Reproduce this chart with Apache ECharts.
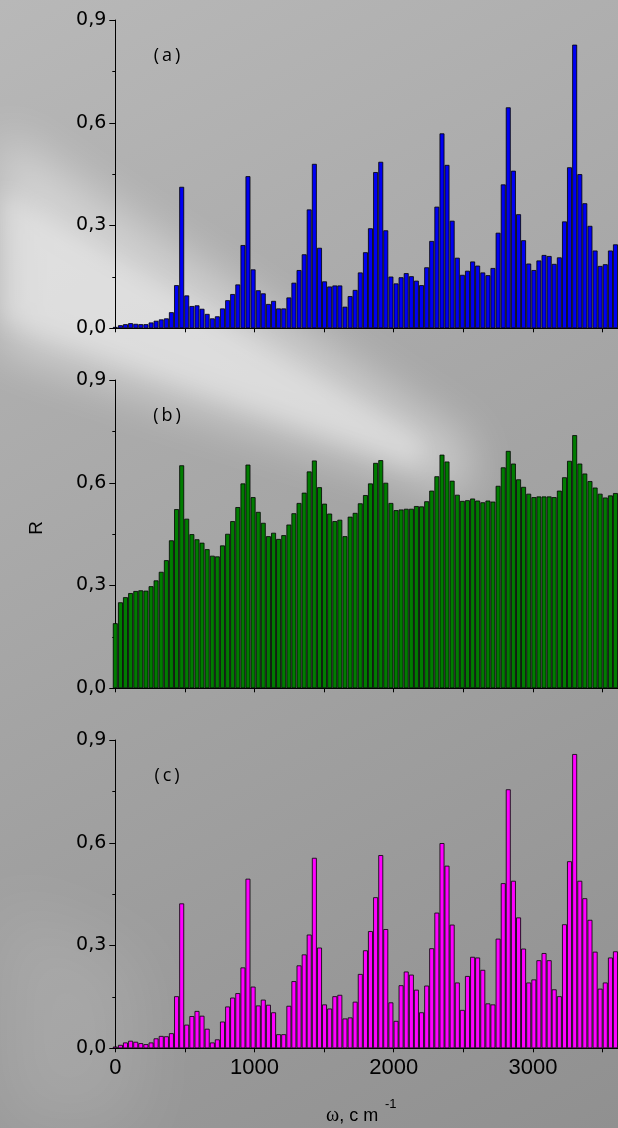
<!DOCTYPE html>
<html>
<head>
<meta charset="utf-8">
<script src="https://cdn.jsdelivr.net/npm/echarts@6/dist/echarts.min.js"></script>
<style>
html,body{margin:0;padding:0;background:#a8a8a8;}
#chart{width:618px;height:1128px;}
</style>
</head>
<body>
<div id="chart"></div>
<script>
// wavenumber bins (cm^-1)
const omega = [0, 37, 73, 110, 147, 183, 220, 257, 293, 330,
  367, 403, 440, 477, 513, 550, 587, 623, 660, 697,
  733, 770, 807, 843, 880, 917, 953, 990, 1027, 1063,
  1100, 1137, 1173, 1210, 1247, 1283, 1320, 1357, 1393, 1430,
  1467, 1503, 1540, 1577, 1613, 1650, 1687, 1723, 1760, 1797,
  1833, 1870, 1907, 1943, 1980, 2017, 2053, 2090, 2127, 2163,
  2200, 2237, 2273, 2310, 2347, 2383, 2420, 2457, 2493, 2530,
  2567, 2603, 2640, 2677, 2713, 2750, 2787, 2823, 2860, 2897,
  2933, 2970, 3007, 3043, 3080, 3117, 3153, 3190, 3227, 3263,
  3300, 3337, 3373, 3410, 3447, 3483, 3520, 3557, 3593];

// panel (a)
const Ra = [0.004, 0.009, 0.012, 0.015, 0.013, 0.012, 0.012, 0.017, 0.022, 0.026,
  0.029, 0.047, 0.126, 0.413, 0.096, 0.065, 0.067, 0.057, 0.042, 0.029,
  0.035, 0.058, 0.082, 0.100, 0.128, 0.243, 0.444, 0.172, 0.111, 0.102,
  0.071, 0.080, 0.058, 0.058, 0.090, 0.133, 0.170, 0.216, 0.347, 0.480,
  0.235, 0.137, 0.122, 0.125, 0.125, 0.063, 0.094, 0.112, 0.163, 0.222,
  0.292, 0.456, 0.486, 0.286, 0.151, 0.131, 0.149, 0.161, 0.152, 0.139,
  0.126, 0.178, 0.255, 0.355, 0.569, 0.477, 0.314, 0.206, 0.156, 0.168,
  0.195, 0.183, 0.163, 0.155, 0.176, 0.279, 0.420, 0.645, 0.460, 0.333,
  0.257, 0.189, 0.170, 0.198, 0.214, 0.211, 0.188, 0.207, 0.312, 0.470,
  0.828, 0.450, 0.365, 0.299, 0.227, 0.182, 0.187, 0.227, 0.245];

// panel (b)
const Rb = [0.190, 0.251, 0.266, 0.278, 0.284, 0.286, 0.285, 0.298, 0.315, 0.340,
  0.374, 0.432, 0.523, 0.651, 0.495, 0.450, 0.435, 0.425, 0.406, 0.387,
  0.385, 0.417, 0.451, 0.488, 0.529, 0.598, 0.653, 0.558, 0.515, 0.483,
  0.444, 0.454, 0.436, 0.447, 0.478, 0.511, 0.541, 0.571, 0.633, 0.665,
  0.587, 0.539, 0.510, 0.488, 0.492, 0.444, 0.501, 0.512, 0.540, 0.564,
  0.598, 0.658, 0.666, 0.600, 0.541, 0.520, 0.522, 0.524, 0.524, 0.532,
  0.531, 0.546, 0.577, 0.619, 0.682, 0.662, 0.606, 0.565, 0.547, 0.549,
  0.554, 0.548, 0.543, 0.548, 0.545, 0.591, 0.645, 0.693, 0.656, 0.610,
  0.588, 0.568, 0.558, 0.560, 0.560, 0.560, 0.558, 0.577, 0.616, 0.664,
  0.739, 0.656, 0.627, 0.605, 0.586, 0.568, 0.557, 0.563, 0.570];

// panel (c)
const Rc = [0.005, 0.010, 0.017, 0.022, 0.019, 0.015, 0.012, 0.017, 0.029, 0.036,
  0.035, 0.044, 0.152, 0.423, 0.069, 0.094, 0.109, 0.095, 0.057, 0.017,
  0.026, 0.078, 0.122, 0.148, 0.161, 0.236, 0.495, 0.180, 0.125, 0.142,
  0.127, 0.105, 0.041, 0.041, 0.124, 0.196, 0.242, 0.274, 0.332, 0.556,
  0.294, 0.128, 0.116, 0.152, 0.156, 0.087, 0.090, 0.136, 0.217, 0.286,
  0.342, 0.441, 0.564, 0.348, 0.134, 0.080, 0.184, 0.224, 0.215, 0.171,
  0.105, 0.183, 0.292, 0.396, 0.599, 0.533, 0.361, 0.192, 0.112, 0.211,
  0.267, 0.265, 0.229, 0.131, 0.128, 0.320, 0.482, 0.756, 0.489, 0.382,
  0.291, 0.192, 0.201, 0.257, 0.278, 0.257, 0.172, 0.152, 0.362, 0.546,
  0.859, 0.489, 0.438, 0.375, 0.282, 0.174, 0.192, 0.265, 0.283];

const panelLabels = ['(a)', '(b)', '(c)'];
const barColors = ['#0000f2', '#007c00', '#ff00ff'];
const yTicks = [0, 0.3, 0.6, 0.9];
const xTickLabels = [0, 1000, 2000, 3000, 4000];

const panels = [Ra, Rb, Rc];
const chart = echarts.init(document.getElementById('chart'), null, {renderer: 'canvas'});

const gridTop = [20, 380, 740];
const gridLeft = 115.3, gridW = 556.8, gridH = 308.3;

const grids = gridTop.map(t => ({left: gridLeft, top: t, width: gridW, height: gridH,
  containLabel: false, outerBoundsMode: 'none'}));

const xAxes = panels.map((_, k) => ({
  type: 'value', gridIndex: k, min: 0, max: 4000, interval: 500,
  axisLine: {show: true, onZero: false, lineStyle: {color: '#000', width: 1}},
  axisTick: {show: true, inside: false, length: 4, lineStyle: {color: '#000', width: 1}},
  axisLabel: {show: k === 2, margin: 9, color: '#000', fontFamily: 'Liberation Sans', fontSize: 22,
    formatter: v => (xTickLabels.indexOf(v) >= 0 ? String(v) : '')},
  splitLine: {show: false}
}));

const yAxes = panels.map((_, k) => ({
  type: 'value', gridIndex: k, min: yTicks[0], max: yTicks[yTicks.length - 1], interval: 0.3,
  axisLine: {show: true, lineStyle: {color: '#000', width: 1}},
  axisTick: {show: true, inside: false, length: 6, lineStyle: {color: '#000', width: 1}},
  minorTick: {show: true, splitNumber: 2, length: 3, lineStyle: {color: '#000', width: 1}},
  axisLabel: {margin: 9, color: '#000', fontFamily: 'DejaVu Sans', fontSize: 19,
    formatter: v => v.toFixed(1).replace('.', ',')},
  splitLine: {show: false}
}));

const series = panels.map((vals, k) => ({
  type: 'bar', xAxisIndex: k, yAxisIndex: k,
  data: omega.map((w, i) => [w, vals[i]]),
  barWidth: 4.9,
  itemStyle: {color: barColors[k], borderColor: '#000', borderWidth: 0.8},
  emphasis: {disabled: true}
}));

const OFF = 2000;
const shifted = pts => pts.map(p => [p[0] - OFF, p[1]]);
const graphics = [
  // soft light streaks (blurred shadows of off-screen shapes)
  {type: 'polygon', silent: true, z: -10,
    shape: {points: shifted([[0, 130], [0, 350], [470, 500], [470, 440]])},
    style: {fill: '#ffffff', shadowBlur: 45, shadowColor: 'rgba(255,255,255,0.42)', shadowOffsetX: OFF}},
  {type: 'polygon', silent: true, z: -10,
    shape: {points: shifted([[0, 190], [0, 320], [420, 470], [420, 440]])},
    style: {fill: '#ffffff', shadowBlur: 22, shadowColor: 'rgba(255,255,255,0.3)', shadowOffsetX: OFF}},
  {type: 'polygon', silent: true, z: -10,
    shape: {points: shifted([[0, 900], [0, 1128], [140, 1128], [140, 960]])},
    style: {fill: '#ffffff', shadowBlur: 70, shadowColor: 'rgba(255,255,255,0.12)', shadowOffsetX: OFF}}
];
panelLabels.forEach((lab, k) => {
  graphics.push({type: 'text', silent: true, z: 10,
    style: {text: lab.replace('(', '(\u2009').replace(')', '\u2009)'), x: 167, y: gridTop[k] + 36,
      align: 'center', verticalAlign: 'middle', font: '18px "Open Sans"', fill: '#000'}});
});
graphics.push({type: 'text', silent: true, z: 10, x: 37, y: 528, rotation: Math.PI / 2,
  style: {text: 'R', x: 0, y: 0, align: 'center', verticalAlign: 'middle',
    font: '19px "Liberation Sans"', fill: '#000'}});
graphics.push({type: 'text', silent: true, z: 10,
  style: {text: '{w|\u03c9}{t|, c m}', x: 326, y: 1116, align: 'left', verticalAlign: 'middle',
    rich: {w: {font: '20px "Liberation Serif"', fill: '#000'}, t: {font: '18px "Liberation Sans"', fill: '#000'}}}});
graphics.push({type: 'text', silent: true, z: 10,
  style: {text: '-1', x: 385, y: 1104, align: 'left', verticalAlign: 'middle',
    font: '13px "Liberation Sans"', fill: '#000'}});

chart.setOption({
  animation: false,
  backgroundColor: {type: 'linear', x: 0, y: 0, x2: 1, y2: 1,
    colorStops: [{offset: 0, color: '#b8b8b8'}, {offset: 0.5, color: '#a4a4a4'}, {offset: 1, color: '#909090'}]},
  grid: grids,
  xAxis: xAxes,
  yAxis: yAxes,
  series: series,
  graphic: graphics
});
</script>
</body>
</html>
